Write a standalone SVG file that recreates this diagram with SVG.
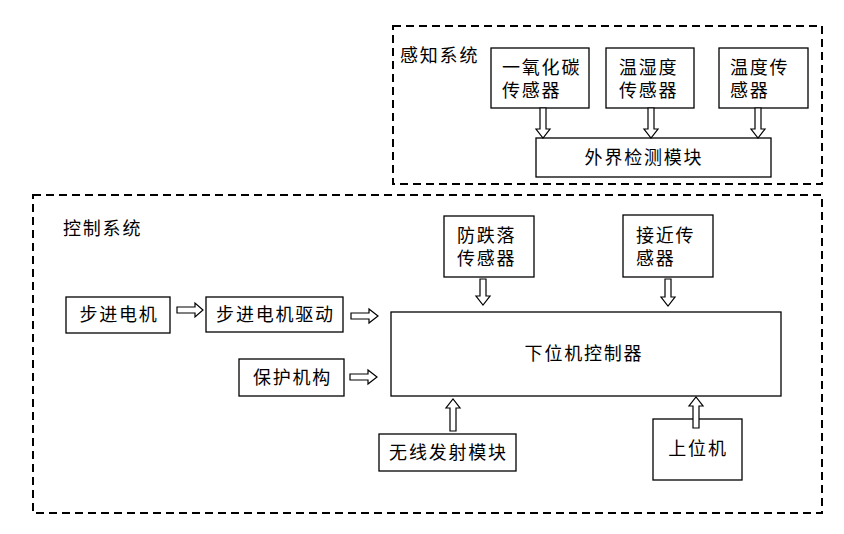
<svg xmlns="http://www.w3.org/2000/svg" width="844" height="534" viewBox="0 0 844 534">
<style>
.box{fill:#fff;stroke:#000;stroke-width:1.3}
.dash{fill:none;stroke:#000;stroke-width:2;stroke-dasharray:8 5}
.arr{fill:#fff;stroke:#000;stroke-width:1.2;stroke-linejoin:miter}
text{font-family:"Microsoft YaHei","Noto Sans CJK SC",sans-serif;font-size:18px;letter-spacing:1.8px;fill:#000}
.c{text-anchor:middle}
</style>
<rect width="844" height="534" fill="#fff"/>
<g id="perception">
<rect class="dash" x="393" y="26" width="429" height="158"/>
<text x="400" y="62">感知系统</text>
</g>
<g id="control">
<rect class="dash" x="33" y="195" width="789" height="318"/>
<text x="63" y="235">控制系统</text>
</g>
<g id="co-sensor"><rect class="box" x="491" y="48" width="98" height="60"/><text x="502" y="74">一氧化碳</text><text x="502" y="97">传感器</text></g>
<g id="humidity-sensor"><rect class="box" x="606" y="48" width="88" height="60"/><text x="619" y="74">温湿度</text><text x="619" y="97">传感器</text></g>
<g id="temp-sensor"><rect class="box" x="719" y="48" width="89" height="60"/><text x="730" y="74">温度传</text><text x="730" y="97">感器</text></g>
<g id="ext-detect"><rect class="box" x="536" y="138" width="235" height="39"/><text class="c" x="644" y="164">外界检测模块</text></g>
<g id="fall-sensor"><rect class="box" x="444" y="216" width="90" height="61"/><text x="457" y="242">防跌落</text><text x="457" y="265">传感器</text></g>
<g id="prox-sensor"><rect class="box" x="623" y="215" width="90" height="62"/><text x="636" y="242">接近传</text><text x="636" y="265">感器</text></g>
<g id="motor"><rect class="box" x="66" y="297" width="104" height="36"/><text class="c" x="119" y="321">步进电机</text></g>
<g id="driver"><rect class="box" x="206" y="297" width="137" height="35"/><text class="c" x="275.5" y="321">步进电机驱动</text></g>
<g id="controller"><rect class="box" x="391" y="312" width="390" height="84"/><text class="c" x="584" y="360">下位机控制器</text></g>
<g id="protect"><rect class="box" x="239" y="359" width="105" height="37"/><text class="c" x="292.5" y="384">保护机构</text></g>
<g id="wireless"><rect class="box" x="379" y="434" width="137" height="37"/><text class="c" x="448.5" y="459">无线发射模块</text></g>
<g id="host"><rect class="box" x="653" y="419" width="89" height="61"/><text class="c" x="698" y="455">上位机</text></g>
<g id="connectors">
<path class="arr" d="M540,108 V129 H536 L543,138 L550,129 H546 V108 Z"/>
<path class="arr" d="M648,108 V129 H644 L651,138 L658,129 H654 V108 Z"/>
<path class="arr" d="M755,108 V129 H751 L758,138 L765,129 H761 V108 Z"/>
<path class="arr" d="M480,279 V296 H476 L483,305 L490,296 H486 V279 Z"/>
<path class="arr" d="M665,279 V297 H661 L668,306 L675,297 H671 V279 Z"/>
<path class="arr" d="M177,307 H195 V303 L203,310 L195,317 V313 H177 Z"/>
<path class="arr" d="M351,313 H369 V309 L378,316 L369,323 V319 H351 Z"/>
<path class="arr" d="M350,374 H368 V370 L377,377 L368,384 V380 H350 Z"/>
<path class="arr" d="M450,431 V408 H446 L453,399 L460,408 H456 V431 Z"/>
<path class="arr" d="M693,428 V406 H689 L696,397 L703,406 H699 V428 Z"/>
</g>
</svg>
